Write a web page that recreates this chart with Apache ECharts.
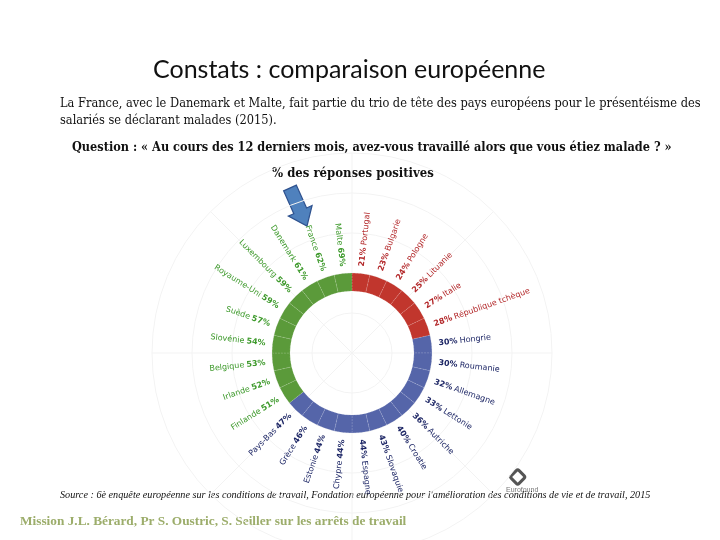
<!DOCTYPE html>
<html>
<head>
<meta charset="utf-8">
<script src="https://cdn.jsdelivr.net/npm/echarts@6/dist/echarts.min.js"></script>
<style>html,body{margin:0;padding:0;background:#fff}#c{width:720px;height:540px}</style>
</head>
<body>
<div id="c"></div>
<script>
// Countries clockwise from 12 o'clock
const countries = ['Portugal','Bulgarie','Pologne','Lituanie','Italie','République tchèque',
  'Hongrie','Roumanie','Allemagne','Lettonie','Autriche','Croatie','Slovaquie','Espagne',
  'Chypre','Estonie','Grèce','Pays-Bas',
  'Finlande','Irlande','Belgique','Slovénie','Suède','Royaume-Uni','Luxembourg','Danemark','France','Malte'];
const values = [21,23,24,25,27,28,
  30,30,32,33,36,40,43,44,
  44,44,46,47,
  51,52,53,54,57,59,59,61,62,69];
const groupColors = {low:'#c1362d', mid:'#5565a9', high:'#5b9a3a'};
const labelColors = {low:'#b3282a', mid:'#1e2766', high:'#3e9a2c'};
function grp(v){ return v < 30 ? 'low' : (v < 50 ? 'mid' : 'high'); }

const chart = echarts.init(document.getElementById('c'));
const cx = 352, cy = 353;
const n = countries.length;

const data = countries.map((name, i) => {
  const g = grp(values[i]);
  const mid = (i + 0.5) * 360 / n;
  const right = mid < 180;
  return {
    name: name,
    value: 1,
    itemStyle: {color: groupColors[g]},
    label: {
      color: labelColors[g],
      formatter: right ? ('{v|' + values[i] + '%} {n|' + name + '}') : ('{n|' + name + '} {v|' + values[i] + '%}'),
      rich: {
        v: {fontWeight: 'bold', fontSize: 8, color: labelColors[g], fontFamily: 'DejaVu Sans'},
        n: {fontSize: 8, color: labelColors[g], fontFamily: 'DejaVu Sans'}
      }
    }
  };
});

// arrow annotation
const S = [290, 188], T = [307, 226];
const L = Math.hypot(T[0]-S[0], T[1]-S[1]);
const u = [(T[0]-S[0])/L, (T[1]-S[1])/L];
const nn = [u[1], -u[0]];
function P(a, b){ return [S[0] + u[0]*a + nn[0]*b, S[1] + u[1]*a + nn[1]*b]; }
const arrowPts = [P(0,7), P(25,7), P(25,13), P(L,0), P(25,-13), P(25,-7), P(0,-7)];

const serif = '"DejaVu Serif Condensed", "Liberation Serif"';
chart.setOption({
  animation: false,
  polar: {center: [cx, cy], radius: 200},
  angleAxis: {type: 'value', min: 0, max: 360, interval: 45, startAngle: 90,
    axisLine: {show: false}, axisTick: {show: false}, axisLabel: {show: false},
    splitLine: {show: true, lineStyle: {color: '#f3f3f3', width: 1}}},
  radiusAxis: {type: 'value', min: 0, max: 200, interval: 40,
    axisLine: {show: false}, axisTick: {show: false}, axisLabel: {show: false},
    splitLine: {show: true, lineStyle: {color: '#f3f3f3', width: 1}}},
  series: [{
    type: 'pie',
    center: [cx, cy],
    radius: [62, 80],
    startAngle: 90,
    clockwise: true,
    avoidLabelOverlap: false,
    silent: true,
    itemStyle: {borderColor: 'rgba(255,255,255,0.3)', borderWidth: 0.5, borderType: 'dashed'},
    label: {show: true, position: 'outside', rotate: 'radial', distanceToLabelLine: 0, fontSize: 8},
    labelLine: {show: false, length: 7, length2: 0},
    data: data
  }],
  graphic: [
    {type: 'text', left: 153, top: 57, style: {text: 'Constats : comparaison européenne', font: '25px Lato', fill: '#111'}},
    {type: 'text', left: 60, top: 97, style: {text: 'La France, avec le Danemark et Malte, fait partie du trio de tête des pays européens pour le présentéisme des', font: '12.7px ' + serif, fill: '#111'}},
    {type: 'text', left: 60, top: 114, style: {text: 'salariés se déclarant malades (2015).', font: '12.7px ' + serif, fill: '#111'}},
    {type: 'text', left: 72, top: 141, style: {text: 'Question : « Au cours des 12 derniers mois, avez-vous travaillé alors que vous étiez malade ? »', font: 'bold 12.6px ' + serif, fill: '#111'}},
    {type: 'text', left: 272, top: 167, style: {text: '% des réponses positives', font: 'bold 13px ' + serif, fill: '#111'}},
    {type: 'polygon', shape: {points: arrowPts}, style: {fill: '#4f81bd', stroke: '#2f528f', lineWidth: 1.2, lineJoin: 'miter'}},
    {type: 'rect', shape: {x: 512, y: 472, width: 11, height: 11, r: 2}, rotation: Math.PI/4, originX: 517, originY: 477, style: {fill: 'none', stroke: '#555', lineWidth: 3}},
    {type: 'text', left: 506, top: 487, style: {text: 'Eurofound', font: '7px "Liberation Sans"', fill: '#777'}},
    {type: 'text', left: 60, top: 490, style: {text: 'Source : 6è enquête européenne sur les conditions de travail, Fondation européenne pour l\'amélioration des conditions de vie et de travail, 2015', font: 'italic 10.2px "Liberation Serif"', fill: '#111'}},
    {type: 'text', left: 20, top: 515, style: {text: 'Mission J.L. Bérard, Pr S. Oustric, S. Seiller sur les arrêts de travail', font: 'bold 13.3px "Liberation Serif"', fill: '#9cad6b'}}
  ]
});
</script>
</body>
</html>
